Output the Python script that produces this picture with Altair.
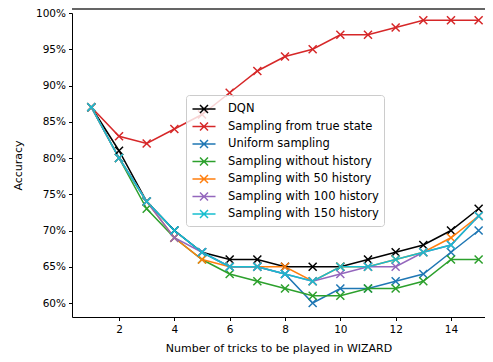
import altair as alt
import pandas as pd

tricks = list(range(1, 16))
series_names = [
    "DQN",
    "Sampling from true state",
    "Uniform sampling",
    "Sampling without history",
    "Sampling with 50 history",
    "Sampling with 100 history",
    "Sampling with 150 history",
]
dqn = [87, 81, 74, 70, 67, 66, 66, 65, 65, 65, 66, 67, 68, 70, 73]
true_state = [87, 83, 82, 84, 86, 89, 92, 94, 95, 97, 97, 98, 99, 99, 99]
uniform = [87, 80, 74, 70, 67, 65, 65, 64, 60, 62, 62, 63, 64, 67, 70]
no_history = [87, 80, 73, 69, 66, 64, 63, 62, 61, 61, 62, 62, 63, 66, 66]
hist50 = [87, 80, 74, 69, 66, 65, 65, 65, 63, 65, 65, 66, 67, 69, 72]
hist100 = [87, 80, 74, 69, 67, 65, 65, 64, 63, 64, 65, 65, 67, 68, 72]
hist150 = [87, 80, 74, 70, 67, 65, 65, 64, 63, 65, 65, 66, 67, 68, 72]
colors = ["#000000", "#d62728", "#1f77b4", "#2ca02c", "#ff7f0e", "#9467bd", "#17becf"]
x_ticks = [2, 4, 6, 8, 10, 12, 14]
y_ticks = [60, 65, 70, 75, 80, 85, 90, 95, 100]

all_series = [dqn, true_state, uniform, no_history, hist50, hist100, hist150]
rows = []
for i, (name, vals) in enumerate(zip(series_names, all_series)):
    for t, v in zip(tricks, vals):
        rows.append({"tricks": t, "acc": v, "series": name, "order": i})
df = pd.DataFrame(rows)

W, H = 413, 304
xs = alt.Scale(domain=[0.3, 15.23], nice=False, zero=False)
ys = alt.Scale(domain=[58.07, 100.0], nice=False, zero=False)

color = alt.Color(
    "series:N",
    scale=alt.Scale(domain=series_names, range=colors),
    sort=series_names,
    legend=alt.Legend(
        title=None,
        orient="none",
        legendX=114,
        legendY=82,
        symbolType="M-1.44,0L1.44,0M-0.5,-0.5L0.5,0.5M0.5,-0.5L-0.5,0.5",
        symbolSize=256,
        symbolStrokeWidth=1.5,
        symbolFillColor="transparent",
        labelFontSize=11.5,
        labelFont="DejaVu Sans",
        labelColor="#000000",
        labelOffset=15,
        rowPadding=1.5,
        padding=5,
        fillColor="rgba(255,255,255,0.8)",
        strokeColor="#cccccc",
        cornerRadius=3,
        symbolOffset=4,
    ),
)

xenc = alt.X(
    "tricks:Q",
    scale=xs,
    axis=alt.Axis(
        values=x_ticks,
        title="Number of tricks to be played in WIZARD",
        grid=False,
        tickSize=3.5,
        labelPadding=4,
        titlePadding=7,
    ),
)
yenc = alt.Y(
    "acc:Q",
    scale=ys,
    axis=alt.Axis(
        values=y_ticks,
        labelExpr="datum.value + '%'",
        title="Accuracy",
        grid=False,
        tickSize=3.5,
        labelPadding=3,
        titlePadding=12,
    ),
)

lines = alt.Chart(df).mark_line(strokeWidth=1.5).encode(
    x=xenc, y=yenc, color=color, order="order:Q"
)
points = alt.Chart(df).mark_point(
    shape="M-1,-1L1,1M1,-1L-1,1", size=64, filled=False, strokeWidth=1.5, opacity=1
).encode(x=xenc, y=yenc, color=color)

top = alt.Chart(df).mark_rule(color="#666666", strokeWidth=1.5).encode(
    x=alt.value(0), x2=alt.value(W), y=alt.value(-4)
)

chart = (
    alt.layer(lines, points, top)
    .properties(
        width=W,
        height=H,
        autosize=alt.AutoSizeParams(type="none"),
        padding={"left": 64, "top": 5, "right": 0, "bottom": 37},
    )
    .configure_view(stroke=None)
    .configure_axis(
        labelFont="DejaVu Sans",
        titleFont="DejaVu Sans",
        labelFontSize=10.5,
        titleFontSize=11,
        titleFontWeight="normal",
        labelColor="#000000",
        titleColor="#000000",
        domainColor="#000000",
        tickColor="#000000",
        domainWidth=1,
    )
)

chart.save("out.html", embed_options={"renderer": "svg", "actions": False})
